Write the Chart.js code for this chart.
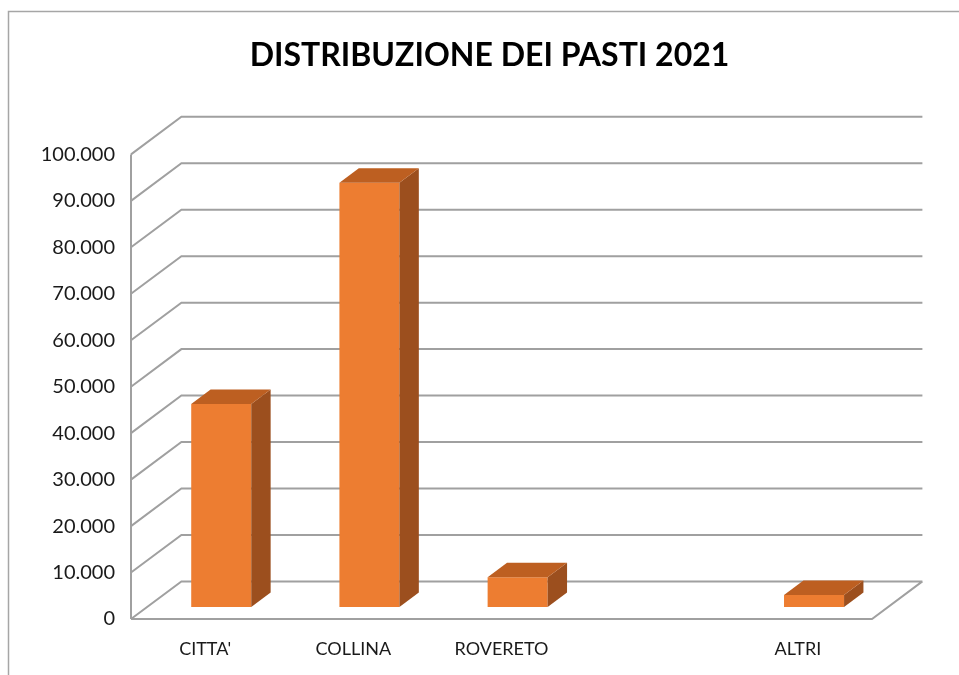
<!DOCTYPE html>
<html>
<head>
<meta charset="utf-8">
<script src="https://cdn.jsdelivr.net/npm/chart.js@4.4.1/dist/chart.umd.min.js"></script>
<style>
  html, body { margin: 0; padding: 0; background: #fff; }
  #wrap { width: 959px; height: 675px; }
</style>
</head>
<body>
<div id="wrap"><canvas id="chart" width="959" height="675"></canvas></div>
<script>
// Data
const categories = ["CITTA'", "COLLINA", "ROVERETO", "", "ALTRI"];
const pasti = [43700, 91300, 6400, null, 2600];
const yTickLabels = ["0", "10.000", "20.000", "30.000", "40.000", "50.000",
                     "60.000", "70.000", "80.000", "90.000", "100.000"];

// 3D look: oblique depth of the box and where the bars sit inside it
const DX = 50.4, DY = -37.6;
const BAR_FRONT = 0.32, BAR_BACK = 0.705;
const FRONT = "#ED7D31", SIDE = "#9C4F1E", TOP = "#BD5F21";
const GRID = "#a0a0a0";

const box3d = {
    id: "box3d",
    beforeDraw(chart) {
        const ctx = chart.ctx;
        ctx.save();
        ctx.strokeStyle = "#a6a6a6";
        ctx.lineWidth = 1.5;
        ctx.strokeRect(8.5, 11.5, 1100, 1000);
        ctx.restore();
    },
    beforeDatasetsDraw(chart) {
        const ctx = chart.ctx;
        const { left, right, top, bottom } = chart.chartArea;
        const y = chart.scales.y;
        ctx.save();
        ctx.strokeStyle = GRID;
        ctx.lineWidth = 2;
        ctx.beginPath();
        // side wall diagonals + back wall lines
        y.ticks.forEach(t => {
            const py = y.getPixelForValue(t.value);
            ctx.moveTo(left, py);
            ctx.lineTo(left + DX, py + DY);
            ctx.lineTo(right + DX, py + DY);
        });
        // left edge
        ctx.moveTo(left, top);
        ctx.lineTo(left, bottom);
        // floor front and right edge
        ctx.moveTo(left, bottom);
        ctx.lineTo(right, bottom);
        ctx.lineTo(right + DX, bottom + DY);
        ctx.stroke();
        ctx.restore();

        // push the bars back into the box; library draws them here
        ctx.save();
        ctx.translate(DX * BAR_FRONT, DY * BAR_FRONT);
    },
    afterDatasetsDraw(chart) {
        const ctx = chart.ctx;
        const bdx = DX * (BAR_BACK - BAR_FRONT), bdy = DY * (BAR_BACK - BAR_FRONT);
        chart.getDatasetMeta(0).data.forEach((bar, i) => {
            if (pasti[i] == null) return;
            const { x, y, base, width } = bar.getProps(["x", "y", "base", "width"], true);
            const l = x - width / 2, r = x + width / 2;
            // side
            ctx.fillStyle = SIDE;
            ctx.beginPath();
            ctx.moveTo(r, y);
            ctx.lineTo(r + bdx, y + bdy);
            ctx.lineTo(r + bdx, base + bdy);
            ctx.lineTo(r, base);
            ctx.closePath();
            ctx.fill();
            // top
            ctx.fillStyle = TOP;
            ctx.beginPath();
            ctx.moveTo(l, y);
            ctx.lineTo(l + bdx, y + bdy);
            ctx.lineTo(r + bdx, y + bdy);
            ctx.lineTo(r, y);
            ctx.closePath();
            ctx.fill();
        });
        ctx.restore();
    }
};

new Chart(document.getElementById("chart"), {
    type: "bar",
    data: {
        labels: categories,
        datasets: [{
            label: "Pasti",
            data: pasti,
            backgroundColor: FRONT,
            borderWidth: 0,
            barPercentage: 0.405,
            categoryPercentage: 1.0,
            clip: false
        }]
    },
    options: {
        responsive: false,
        animation: false,
        layout: { padding: { left: 20, right: 0, top: 0, bottom: 0 } },
        plugins: {
            legend: { display: false },
            tooltip: { enabled: false },
            title: {
                display: true,
                text: "DISTRIBUZIONE DEI PASTI 2021",
                color: "#000",
                font: { family: "Lato", size: 32, weight: "bold" },
                padding: { top: 36, bottom: 80 }
            }
        },
        scales: {
            x: {
                grid: { display: false, drawTicks: false },
                border: { display: false },
                ticks: { color: "#1a1a1a", padding: 19, font: { family: "Lato", size: 18 } },
                afterFit: s => { s.height = 56; }
            },
            y: {
                min: 0,
                max: 100000,
                grid: { display: false, drawTicks: false },
                border: { display: false },
                ticks: {
                    stepSize: 10000,
                    color: "#1a1a1a",
                    padding: 16,
                    font: { family: "Lato", size: 20 },
                    callback: (v, i) => yTickLabels[i]
                },
                afterFit: s => { s.width = 111; }
            },
            // empty right-hand space where the 3D box recedes
            yRight: {
                position: "right",
                min: 0,
                max: 100000,
                grid: { display: false, drawTicks: false },
                border: { display: false },
                ticks: { display: false },
                afterFit: s => { s.width = 87; }
            }
        }
    },
    plugins: [box3d]
});
</script>
</body>
</html>
